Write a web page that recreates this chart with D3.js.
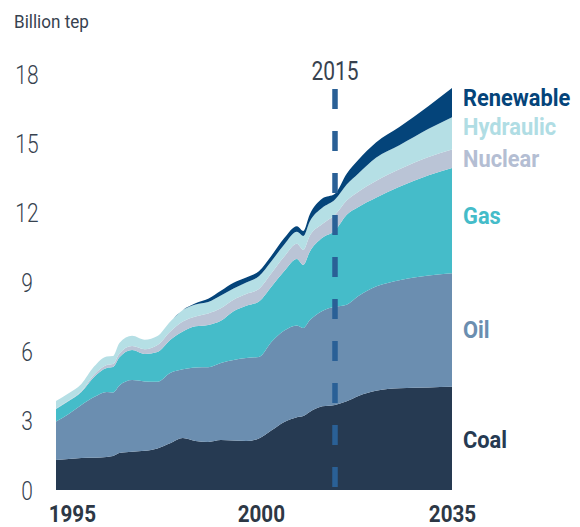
<!DOCTYPE html>
<html>
<head>
<meta charset="utf-8">
<script src="https://cdn.jsdelivr.net/npm/d3@7"></script>
<style>
  html, body { margin: 0; padding: 0; background: #fff; }
  svg { display: block; }
  text { font-family: Roboto, "Noto Sans", sans-serif; }
</style>
</head>
<body>
<svg id="chart" width="580" height="527"></svg>
<script>
// ---- Data (billion tep) ----
const years = [1971,1973,1975,1977,1979,1980,1981,1983,1985,1987,1989,1991,1993,1995,1997,1999,2001,2003,2005,2007,2009,2010,2011,2013,2015,2017,2019,2022,2026,2031,2035];
const coal      = [1.30,1.34,1.39,1.40,1.43,1.47,1.60,1.66,1.70,1.80,2.02,2.25,2.12,2.08,2.16,2.14,2.12,2.23,2.58,2.94,3.15,3.20,3.38,3.62,3.68,3.84,4.07,4.29,4.40,4.44,4.47];
const oil       = [1.66,1.95,2.29,2.62,2.81,2.75,2.92,3.10,3.00,2.88,3.04,2.97,3.18,3.23,3.34,3.49,3.59,3.53,3.84,3.96,3.97,3.81,3.96,4.13,4.25,4.18,4.32,4.51,4.68,4.84,4.91];
const gas       = [0.55,0.56,0.56,0.87,1.04,1.10,1.22,1.30,1.19,1.29,1.43,1.64,1.78,1.83,1.82,2.10,2.26,2.40,2.39,2.58,2.88,2.73,2.96,3.16,3.30,3.89,3.86,3.85,4.04,4.34,4.55];
const nuclear   = [0.02,0.02,0.03,0.10,0.13,0.13,0.17,0.17,0.20,0.30,0.36,0.43,0.43,0.50,0.54,0.50,0.51,0.54,0.58,0.62,0.65,0.65,0.69,0.60,0.68,0.62,0.66,0.72,0.76,0.79,0.80];
const hydraulic = [0.32,0.32,0.32,0.35,0.37,0.35,0.45,0.44,0.41,0.39,0.43,0.50,0.52,0.50,0.56,0.49,0.50,0.55,0.52,0.52,0.52,0.60,0.62,0.70,0.66,0.69,0.79,1.01,1.04,1.22,1.40];
const renewable = [0,0,0,0,0,0,0,0,0,0,0,0,0.05,0.13,0.20,0.25,0.22,0.22,0.24,0.28,0.24,0.22,0.30,0.40,0.25,0.46,0.59,0.66,0.79,0.99,1.26];

const seriesNames = ["Coal","Oil","Gas","Nuclear","Hydraulic","Renewable"];
const yTicks = [0,3,6,9,12,15,18];
const xTickYears  = [1973.5, 2003.3, 2035];
const xTickLabels = ["1995","2000","2035"];
const markerYear = 2015;
const markerLabel = "2015";
const unitLabel = "Billion tep";

// ---- Styles / layout ----
const colors = {Coal:"#263a52", Oil:"#6b8eb0", Gas:"#45bcc9", Nuclear:"#bac4d6", Hydraulic:"#b5dfe5", Renewable:"#04447a"};
const labelColors = {Coal:"#263a52", Oil:"#6b8eb0", Gas:"#45bcc9", Nuclear:"#b4bed3", Hydraulic:"#b0dde4", Renewable:"#04447a"};
const labelBaseline = {Renewable:106, Hydraulic:135, Nuclear:167, Gas:224, Oil:338, Coal:448};
const textColor = "#37424f";
const squeeze = 0.84;

const series = {Coal:coal, Oil:oil, Gas:gas, Nuclear:nuclear, Hydraulic:hydraulic, Renewable:renewable};
const rows = years.map((yr,i) => {
  const r = {year: yr};
  seriesNames.forEach(k => r[k] = series[k][i]);
  return r;
});

const svg = d3.select("#chart");
const x = d3.scaleLinear().domain([1971, 2015, 2035]).range([56, 335, 452]);
const y = d3.scaleLinear().domain([0, 18]).range([490, 74]);

const stacked = d3.stack().keys(seriesNames)(rows);
const area = d3.area()
  .x(d => x(d.data.year))
  .y0(d => y(d[0]))
  .y1(d => y(d[1]))
  .curve(d3.curveMonotoneX);

svg.append("g").selectAll("path")
  .data(stacked)
  .join("path")
  .attr("fill", d => colors[d.key])
  .attr("d", area);

function condensed(sel, px, py, f) {
  sel.attr("x", 0).attr("y", 0)
     .attr("transform", `translate(${px},${py}) scale(${f},1)`);
  return sel;
}

// Y axis
const yAxis = d3.axisLeft(y).tickValues(yTicks).tickSize(0).tickPadding(0);
const gy = svg.append("g").call(yAxis);
gy.select(".domain").remove();
gy.selectAll(".tick text").each(function() {
  const t = d3.select(this);
  t.attr("text-anchor", "middle").attr("dy", null)
   .attr("fill", textColor)
   .style("font-size", "25px").style("font-weight", 300)
   .style("font-family", "Roboto");
  condensed(t, 27, 9, squeeze);
});

// X axis
const xAxis = d3.axisBottom(x).tickValues(xTickYears).tickSize(0)
  .tickFormat((d,i) => xTickLabels[i]);
const gx = svg.append("g").attr("transform", "translate(0,490)").call(xAxis);
gx.select(".domain").remove();
gx.selectAll(".tick text").each(function() {
  const t = d3.select(this);
  t.attr("text-anchor", "middle").attr("dy", null)
   .attr("fill", "#2d3845")
   .style("font-size", "24px").style("font-weight", 700)
   .style("font-family", "Roboto");
  condensed(t, 0, 32, 0.86);
});

// Unit label
svg.append("text").text(unitLabel)
  .attr("fill", textColor)
  .style("font-size", "18px").style("font-weight", 400)
  .call(s => condensed(s, 14, 28, 0.95));

// 2015 dashed marker
svg.append("line")
  .attr("x1", x(markerYear)).attr("x2", x(markerYear))
  .attr("y1", 89).attr("y2", 490)
  .attr("stroke", "#2a6096").attr("stroke-width", 5.5)
  .attr("stroke-dasharray", "20,22");
svg.append("text").text(markerLabel)
  .attr("text-anchor", "middle")
  .attr("fill", textColor)
  .style("font-size", "25px").style("font-weight", 400)
  .call(s => condensed(s, x(markerYear), 80, squeeze));

// Series labels
svg.append("g").selectAll("text")
  .data(seriesNames)
  .join("text")
  .text(d => d)
  .attr("fill", d => labelColors[d])
  .style("font-size", "23px").style("font-weight", 700)
  .each(function(d) { condensed(d3.select(this), 463, labelBaseline[d], 0.95); });
</script>
</body>
</html>
